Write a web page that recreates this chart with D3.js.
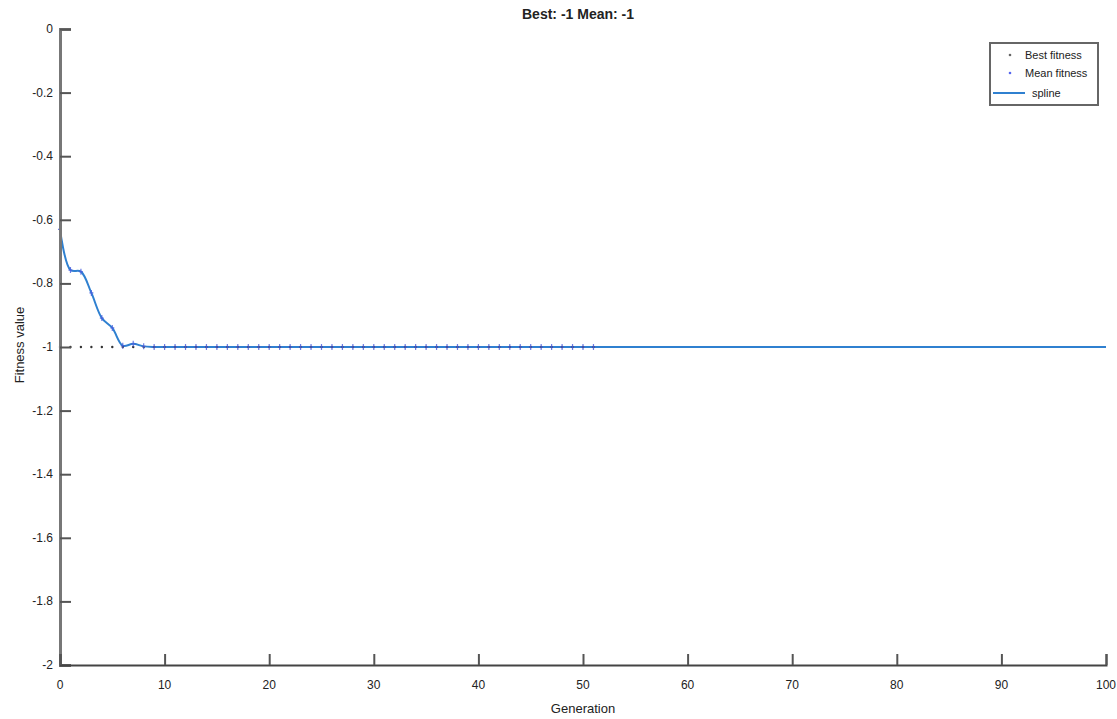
<!DOCTYPE html>
<html><head><meta charset="utf-8">
<script src="https://cdn.jsdelivr.net/npm/d3@7"></script>
<style>
body{margin:0;background:#fff;}
text{font-family:"Liberation Sans Narrow","Arial Narrow","Liberation Sans",Arial,sans-serif;fill:#222;}
</style></head><body>
<svg id="c" width="1117" height="719"></svg>
<script>
// ---- data ----
const titleText = "Best: -1 Mean: -1";
const xLabel = "Generation";
const yLabel = "Fitness value";
const xTicks = [0,10,20,30,40,50,60,70,80,90,100];
const yTicks = [0,-0.2,-0.4,-0.6,-0.8,-1,-1.2,-1.4,-1.6,-1.8,-2];
const generations = [0,1,2,3,4,5,6,7,8,9,10,11,12,13,14,15,16,17,18,19,20,21,22,23,24,25,26,27,28,29,30,31,32,33,34,35,36,37,38,39,40,41,42,43,44,45,46,47,48,49,50,51];
const bestFitness = [-1,-1,-1,-1,-1,-1,-1,-1,-1,-1,-1,-1,-1,-1,-1,-1,-1,-1,-1,-1,-1,-1,-1,-1,-1,-1,-1,-1,-1,-1,-1,-1,-1,-1,-1,-1,-1,-1,-1,-1,-1,-1,-1,-1,-1,-1,-1,-1,-1,-1,-1,-1];
const meanFitness = [-0.63,-0.758,-0.763,-0.83,-0.909,-0.94,-0.996,-0.99,-0.998,-1,-1,-1,-1,-1,-1,-1,-1,-1,-1,-1,-1,-1,-1,-1,-1,-1,-1,-1,-1,-1,-1,-1,-1,-1,-1,-1,-1,-1,-1,-1,-1,-1,-1,-1,-1,-1,-1,-1,-1,-1,-1,-1];
const splineX = [0,1,2,3,4,5,6,7,8,9,10,51,100];
const splineY = [-0.63,-0.758,-0.763,-0.83,-0.909,-0.94,-0.996,-0.99,-0.998,-1,-1,-1,-1];
const legendLabels = ["Best fitness","Mean fitness","spline"];

// ---- chart ----
const svg = d3.select("#c");
const x = d3.scaleLinear().domain([0,100]).range([60,1106]);
const y = d3.scaleLinear().domain([-2,0]).range([665,29]);
const lineColor = "#2f80d0";

svg.append("text").attr("x",578).attr("y",19).attr("text-anchor","middle")
  .style("font-size","14px").style("font-weight","bold").text(titleText);

// spline line
const line = d3.line().x(d=>x(d[0])).y(d=>y(d[1])).curve(d3.curveCatmullRom.alpha(0.5));
svg.append("path").datum(splineX.map((g,i)=>[g,splineY[i]]))
  .attr("d",line).attr("fill","none").attr("stroke",lineColor).attr("stroke-width",2);

// best fitness dots
svg.append("g").selectAll("circle").data(generations).join("circle")
  .attr("cx",g=>x(g)).attr("cy",(g,i)=>y(bestFitness[i])).attr("r",1.2).attr("fill","#333");

// mean fitness markers
svg.append("g").selectAll("path").data(generations).join("path")
  .attr("d",(g,i)=>{const cx=x(g),cy=y(meanFitness[i]);return `M${cx},${cy-3}V${cy+3}M${cx-2},${cy}H${cx+2}`;})
  .attr("stroke","#4a5fe0").attr("stroke-width",1.2).attr("opacity",0.8);

// axes
const yAxis = svg.append("g").attr("transform","translate(60,0)")
  .call(d3.axisRight(y).tickValues(yTicks).tickSize(11).tickFormat(""));
yAxis.select(".domain").attr("stroke","#777").attr("stroke-width",3);
yAxis.selectAll(".tick line").attr("stroke","#555").attr("stroke-width",2);
svg.append("g").selectAll("text").data(yTicks).join("text")
  .attr("x",53).attr("y",d=>y(d)+4).attr("text-anchor","end")
  .style("font-size","12px").text(d=>String(d));

const xAxis = svg.append("g").attr("transform","translate(0,665)")
  .call(d3.axisTop(x).tickValues(xTicks).tickSize(11).tickFormat(""));
xAxis.select(".domain").attr("stroke","#444").attr("stroke-width",2);
xAxis.selectAll(".tick line").attr("stroke","#555").attr("stroke-width",2);
svg.append("g").selectAll("text").data(xTicks).join("text")
  .attr("x",d=>x(d)).attr("y",689).attr("text-anchor","middle")
  .style("font-size","12px").text(d=>String(d));

svg.append("text").attr("x",583).attr("y",713).attr("text-anchor","middle")
  .style("font-size","13px").text(xLabel);
svg.append("text").attr("transform","translate(24,345) rotate(-90)").attr("text-anchor","middle")
  .style("font-size","13px").text(yLabel);

// legend
const lg = svg.append("g");
lg.append("rect").attr("x",990).attr("y",43).attr("width",108).attr("height",62)
  .attr("fill","#fff").attr("stroke","#666").attr("stroke-width",2);
const ly = [55,73,93];
lg.append("circle").attr("cx",1010).attr("cy",ly[0]).attr("r",1.3).attr("fill","#666");
lg.append("circle").attr("cx",1010).attr("cy",ly[1]).attr("r",1.3).attr("fill","#5566ee");
lg.append("line").attr("x1",993).attr("x2",1025).attr("y1",ly[2]).attr("y2",ly[2])
  .attr("stroke",lineColor).attr("stroke-width",2);
lg.selectAll("text").data(legendLabels).join("text")
  .attr("x",(d,i)=>i===2?1032:1025).attr("y",(d,i)=>ly[i]+4)
  .style("font-size","11px").text(d=>d);
</script></body></html>
